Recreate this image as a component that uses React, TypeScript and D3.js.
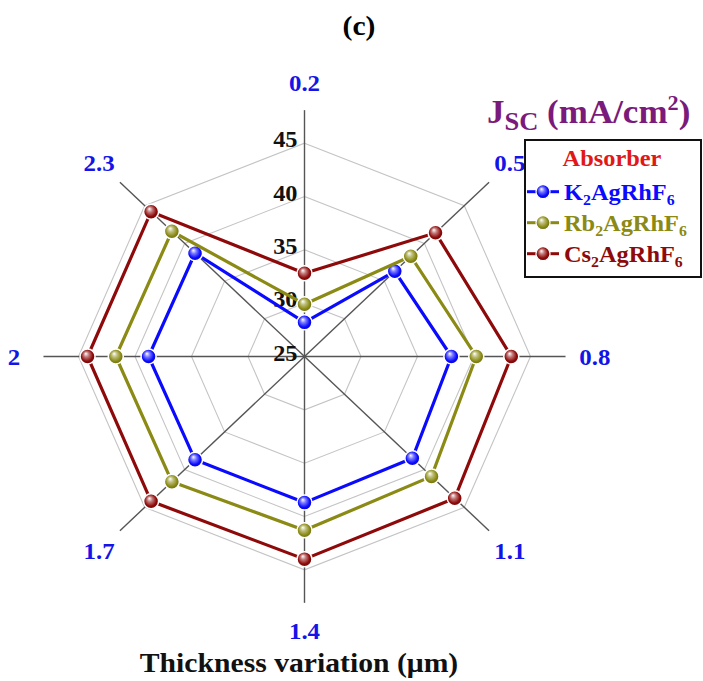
import React from "react";
import * as d3 from "d3";

const categories = ["0.2", "0.5", "0.8", "1.1", "1.4", "1.7", "2", "2.3"];
const kValues = [28.2, 36.3, 38.0, 38.5, 38.7, 38.7, 38.8, 38.7];
const rbValues = [29.9, 38.3, 40.2, 40.9, 41.3, 41.6, 41.7, 41.6];
const csValues = [32.8, 41.4, 43.3, 43.8, 44.0, 44.2, 44.2, 44.2];
const ticks = [25, 30, 35, 40, 45];
const seriesNames = [
  ["K", "2", "AgRhF", "6"],
  ["Rb", "2", "AgRhF", "6"],
  ["Cs", "2", "AgRhF", "6"],
];
const seriesColors = ["#0a0aff", "#8a8a14", "#8e0a0a"];
const seriesData = [kValues, rbValues, csValues];

const W = 703;
const H = 681;
const cx = 304.5;
const cy = 356.5;
const SX = 1.06; // horizontal stretch of the original picture
const FONT = "'Liberation Serif', 'Times New Roman', serif";

const ry = d3.scaleLinear().domain([25, 45]).range([0, 213.3]);
const rx = d3.scaleLinear().domain([25, 45]).range([0, 226]);
const angle = d3
  .scalePoint<string>()
  .domain(categories)
  .range([0, (Math.PI * 2 * (categories.length - 1)) / categories.length]);

function pt(cat: string, v: number): [number, number] {
  const a = angle(cat) as number;
  return [cx + rx(v) * Math.sin(a), cy - ry(v) * Math.cos(a)];
}

const closedLine = d3
  .line<[number, number]>()
  .x((d) => d[0])
  .y((d) => d[1])
  .curve(d3.curveLinearClosed);

function T({ x, y, children, ...rest }: any) {
  return (
    <g transform={`translate(${x},${y}) scale(${SX},1)`}>
      <text x={0} y={0} {...rest}>
        {children}
      </text>
    </g>
  );
}

export default function App() {
  const axisEnd = 48.1;
  const labelV = 50.7;
  return (
    <svg
      width={W}
      height={H}
      style={{ position: "absolute", left: 0, top: 0, background: "#fff" }}
      fontFamily={FONT}
    >
      <defs>
        {seriesColors.map((c, i) => (
          <radialGradient key={i} id={`ball${i}`} cx="0.5" cy="0.5" r="0.6" fx="0.38" fy="0.3">
            <stop offset="0" stopColor="#ffffff" />
            <stop offset="0.3" stopColor={d3.interpolateRgb("#fff", c)(0.55)} />
            <stop offset="0.65" stopColor={c} />
            <stop offset="1" stopColor={d3.color(c)!.darker(1.2).toString()} />
          </radialGradient>
        ))}
      </defs>

      {/* grid octagons */}
      {ticks.slice(1).map((t) => (
        <path
          key={t}
          d={closedLine(categories.map((c) => pt(c, t)))!}
          fill="none"
          stroke="#c4c4c4"
          strokeWidth={1.1}
        />
      ))}

      {/* axes */}
      {categories.map((c) => {
        const [x, y] = pt(c, axisEnd);
        return <line key={c} x1={cx} y1={cy} x2={x} y2={y} stroke="#555" strokeWidth={1.4} />;
      })}

      {/* tick labels */}
      {ticks.map((t) => (
        <T
          key={t}
          x={cx - 7}
          y={cy - ry(t) + 4}
          textAnchor="end"
          fontSize={23}
          fontWeight="bold"
          fill="#111"
        >
          {t}
        </T>
      ))}

      {/* category labels */}
      {categories.map((c) => {
        const [x, y] = pt(c, labelV);
        return (
          <T
            key={c}
            x={x}
            y={y}
            textAnchor="middle"
            dominantBaseline="central"
            fontSize={23.5}
            fontWeight="bold"
            fill="#1414e8"
          >
            {c}
          </T>
        );
      })}

      {/* series */}
      {seriesData.map((vals, si) => {
        const pts = categories.map((c, i) => pt(c, vals[i]));
        return (
          <g key={si}>
            <path d={closedLine(pts)!} fill="none" stroke={seriesColors[si]} strokeWidth={3.2} />
            {pts.map((p, i) => (
              <circle
                key={i}
                cx={p[0]}
                cy={p[1]}
                r={7.5}
                fill={`url(#ball${si})`}
                stroke="#fff"
                strokeWidth={1.5}
              />
            ))}
          </g>
        );
      })}

      {/* title */}
      <T x={359} y={35} textAnchor="middle" fontSize={28} fontWeight="bold" fill="#000">
        (c)
      </T>

      {/* unit label */}
      <T x={487} y={123} fontSize={33} fontWeight="bold" fill="#7a1a7a">
        J
        <tspan fontSize={25} dy={7}>SC</tspan>
        <tspan dy={-7}> (mA/cm</tspan>
        <tspan fontSize={21} dy={-13}>2</tspan>
        <tspan dy={13}>)</tspan>
      </T>

      {/* legend */}
      <rect x={525} y={140} width={176} height={137} fill="#fff" stroke="#111" strokeWidth={2} />
      <T x={612} y={166} textAnchor="middle" fontSize={23} fontWeight="bold" fill="#e01818">
        Absorber
      </T>
      {seriesNames.map((parts, i) => {
        const y = 191.7 + i * 31;
        return (
          <g key={i}>
            <line x1={527} x2={559} y1={y} y2={y} stroke={seriesColors[i]} strokeWidth={3} />
            <circle cx={543} cy={y} r={7} fill={`url(#ball${i})`} stroke="#fff" strokeWidth={1.2} />
            <T x={564} y={y + 8} fontSize={23} fontWeight="bold" fill={seriesColors[i]}>
              {parts[0]}
              <tspan fontSize={15} dy={5}>{parts[1]}</tspan>
              <tspan dy={-5}>{parts[2]}</tspan>
              <tspan fontSize={15} dy={5}>{parts[3]}</tspan>
            </T>
          </g>
        );
      })}

      {/* x label */}
      <T x={299} y={672} textAnchor="middle" fontSize={28} fontWeight="bold" fill="#111">
        Thickness variation (μm)
      </T>
    </svg>
  );
}
